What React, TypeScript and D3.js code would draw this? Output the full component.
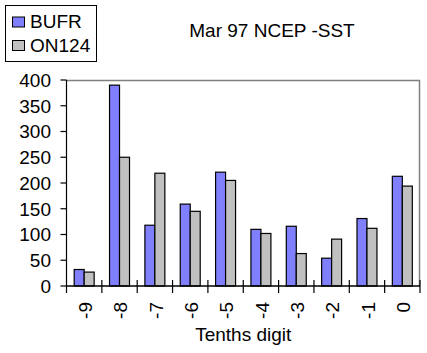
import React from 'react';
import * as d3 from 'd3';

const categories = ['-9', '-8', '-7', '-6', '-5', '-4', '-3', '-2', '-1', '0'];
const bufr = [32, 390, 118, 159, 221, 110, 116, 54, 131, 213];
const on124 = [27, 250, 219, 145, 205, 102, 63, 91, 112, 194];
const seriesNames = ['BUFR', 'ON124'];
const seriesColors = ['#8080FF', '#C0C0C0'];
const yTicks = [0, 50, 100, 150, 200, 250, 300, 350, 400];

const width = 427;
const height = 353;
const margin = { top: 80, right: 7, bottom: 67, left: 66.5 };
const font = 'Arial, "Liberation Sans", Helvetica, sans-serif';

const App = () => {
    const x = d3.scaleBand()
        .domain(categories)
        .range([margin.left, width - margin.right])
        .padding(0);
    const xs = d3.scaleBand()
        .domain(seriesNames)
        .range([0, x.bandwidth()])
        .paddingInner(0)
        .paddingOuter(0.77);
    const y = d3.scaleLinear()
        .domain([0, 400])
        .range([height - margin.bottom, margin.top]);

    const series = [bufr, on124];
    const x0 = margin.left;
    const x1 = width - margin.right;
    const y0 = y(0);
    const yTop = y(400);

    return (
        <svg width={width} height={height} style={{ position: 'absolute', left: 0, top: 0, background: '#fff' }}
            fontFamily={font}>
            {/* legend */}
            <rect x={5.5} y={5.5} width={91} height={56} fill="#fff" stroke="#000" strokeWidth={1} />
            {seriesNames.map((name, i) => (
                <g key={name} transform={`translate(0, ${i * 23.5})`}>
                    <rect x={12.5} y={17} width={12} height={10} fill={seriesColors[i]} stroke="#000" strokeWidth={1} />
                    <text x={30} y={28} fontSize={19}>{name}</text>
                </g>
            ))}

            {/* title */}
            <text x={272} y={37} fontSize={19} textAnchor="middle">Mar 97 NCEP -SST</text>

            {/* plot frame */}
            <path d={`M${x0},${yTop + 0.5}H${x1 - 0.5}V${y0}`} fill="none" stroke="#808080" strokeWidth={1.5} />

            {/* bars */}
            {categories.map((c, ci) => (
                <g key={c} transform={`translate(${x(c)}, 0)`}>
                    {series.map((s, si) => (
                        <rect key={si}
                            x={xs(seriesNames[si])}
                            y={y(s[ci])}
                            width={xs.bandwidth()}
                            height={y0 - y(s[ci])}
                            fill={seriesColors[si]}
                            stroke="#000"
                            strokeWidth={1.2} />
                    ))}
                </g>
            ))}

            {/* y axis */}
            <line x1={x0} x2={x0} y1={yTop} y2={y0 + 7} stroke="#000" strokeWidth={1.2} />
            {yTicks.map(t => (
                <g key={t}>
                    <line x1={x0 - 6} x2={x0} y1={y(t)} y2={y(t)} stroke="#000" strokeWidth={1.2} />
                    <text x={51} y={y(t)} dy="0.36em" fontSize={19} textAnchor="end">{t}</text>
                </g>
            ))}

            {/* x axis */}
            <line x1={x0} x2={x1} y1={y0} y2={y0} stroke="#000" strokeWidth={1.4} />
            {categories.map((c, i) => (
                <line key={'t' + c} x1={(x(c) as number) + x.bandwidth()} x2={(x(c) as number) + x.bandwidth()}
                    y1={y0 - 6} y2={y0 + 7} stroke="#000" strokeWidth={1.2} />
            ))}
            {categories.map(c => (
                <text key={'l' + c}
                    transform={`translate(${(x(c) as number) + x.bandwidth() / 2 + 1}, 302) rotate(-90)`}
                    dy="0.36em" fontSize={19} textAnchor="end">{c}</text>
            ))}
            <text x={(x0 + x1) / 2} y={341} fontSize={19} textAnchor="middle">Tenths digit</text>
        </svg>
    );
};

export default App;
